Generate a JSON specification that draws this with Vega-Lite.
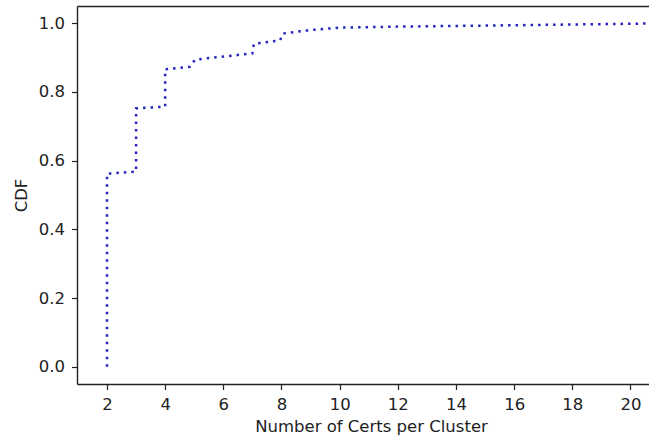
{
  "$schema": "https://vega.github.io/schema/vega-lite/v6.json",
  "width": 572,
  "height": 378,
  "autosize": {"type": "none"},
  "padding": {"left": 77, "top": 6, "right": 0, "bottom": 56},
  "background": "white",
  "data": {
    "values": [
      {"i": 0, "x": 2, "cdf": 0.0},
      {"i": 1, "x": 2, "cdf": 0.562},
      {"i": 2, "x": 3, "cdf": 0.568},
      {"i": 3, "x": 3, "cdf": 0.752},
      {"i": 4, "x": 4, "cdf": 0.757},
      {"i": 5, "x": 4, "cdf": 0.866},
      {"i": 6, "x": 4.85, "cdf": 0.873},
      {"i": 7, "x": 5.03, "cdf": 0.894},
      {"i": 8, "x": 7, "cdf": 0.912},
      {"i": 9, "x": 7.05, "cdf": 0.94},
      {"i": 10, "x": 7.95, "cdf": 0.95},
      {"i": 11, "x": 8.05, "cdf": 0.97},
      {"i": 12, "x": 9, "cdf": 0.98},
      {"i": 13, "x": 10, "cdf": 0.987},
      {"i": 14, "x": 12, "cdf": 0.99},
      {"i": 15, "x": 16, "cdf": 0.994},
      {"i": 16, "x": 20.6, "cdf": 0.999}
    ]
  },
  "layer": [
    {
      "mark": {"type": "line", "color": "#2626c0", "strokeWidth": 2.5, "strokeDash": [2.5, 5], "clip": true},
      "encoding": {
        "x": {
          "field": "x", "type": "quantitative",
          "scale": {"domain": [0.968, 20.638], "nice": false, "zero": false},
          "axis": {
            "title": "Number of Certs per Cluster",
            "values": [2, 4, 6, 8, 10, 12, 14, 16, 18, 20],
            "format": "d",
            "titlePadding": 5,
            "titleX": 294,
            "titleAnchor": "middle"
          }
        },
        "y": {
          "field": "cdf", "type": "quantitative",
          "scale": {"domain": [-0.05, 1.05], "nice": false, "zero": false},
          "axis": {
            "title": "CDF",
            "values": [0, 0.2, 0.4, 0.6, 0.8, 1.0],
            "format": ".1f",
            "titlePadding": 9
          }
        },
        "order": {"field": "i", "type": "quantitative"}
      }
    },
    {
      "mark": {"type": "line", "opacity": 0},
      "encoding": {
        "x": {
          "field": "x", "type": "quantitative",
          "axis": {"orient": "top", "labels": false, "ticks": false, "title": null, "domain": true}
        },
        "y": {"field": "cdf", "type": "quantitative"},
        "order": {"field": "i", "type": "quantitative"}
      }
    }
  ],
  "resolve": {"axis": {"x": "independent"}},
  "config": {
    "view": {"stroke": null},
    "axis": {
      "grid": false,
      "domainColor": "#222222",
      "domainWidth": 1.4,
      "tickColor": "#222222",
      "tickWidth": 1.2,
      "tickSize": 5.5,
      "labelFont": "DejaVu Sans",
      "labelFontSize": 16.5,
      "labelColor": "#222222",
      "labelPadding": 7,
      "titleFont": "DejaVu Sans",
      "titleFontSize": 16.5,
      "titleFontWeight": "normal",
      "titleColor": "#222222"
    }
  }
}
